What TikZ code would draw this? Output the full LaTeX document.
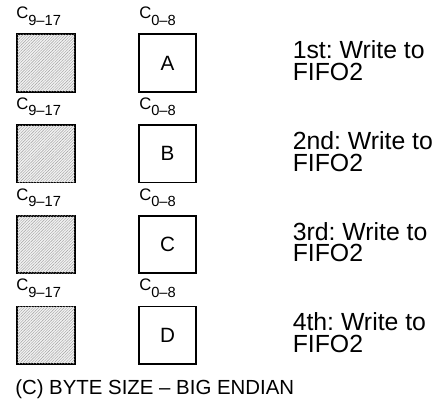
\documentclass[tikz,border=0pt]{standalone}
\usepackage{fontspec}
\setmainfont{Liberation Sans}
\usetikzlibrary{patterns.meta}
\frenchspacing
\newcommand{\lowsub}[1]{\raisebox{-4.8pt}{\fontsize{11}{11}\selectfont #1}}
\tikzset{
 cell/.style={draw, line width=1.3pt, minimum width=43pt, minimum height=43pt,
   inner sep=0pt, font=\fontsize{15.5}{15.5}\selectfont},
 unused/.style={cell, fill=gray!10,
   postaction={pattern={Lines[angle=45,distance=1.5pt,line width=0.3pt]}, pattern color=gray!75}},
 bitlabel/.style={anchor=base west, inner sep=0pt, font=\fontsize{12.5}{12.5}\selectfont},
 writenote/.style={anchor=base west, inner sep=0pt, align=left, font=\fontsize{18.6}{16.3}\selectfont}
}

\begin{document}
\begin{tikzpicture}[x=0.75pt,y=-0.75pt]
 \useasboundingbox (0,0) rectangle (442,400);
 % first byte
 \node[bitlabel] (hiA) at (16,18.8) {C\lowsub{9–17}};
 \node[bitlabel] (loA) at (139,18.8) {C\lowsub{0–8}};
 \node[unused] (padA) at (46,63) {};
 \node[cell] (byteA) at (167.5,63) {A};
 \node[writenote] (noteA) at (292.5,80.5) {1st: Write to\\FIFO2};
 % second byte
 \node[bitlabel] (hiB) at (16,109.5) {C\lowsub{9–17}};
 \node[bitlabel] (loB) at (139,109.5) {C\lowsub{0–8}};
 \node[unused] (padB) at (46,153.7) {};
 \node[cell] (byteB) at (167.5,153.7) {B};
 \node[writenote] (noteB) at (292.5,171.2) {2nd: Write to\\FIFO2};
 % third byte
 \node[bitlabel] (hiC) at (16,200.2) {C\lowsub{9–17}};
 \node[bitlabel] (loC) at (139,200.2) {C\lowsub{0–8}};
 \node[unused] (padC) at (46,244.4) {};
 \node[cell] (byteC) at (167.5,244.4) {C};
 \node[writenote] (noteC) at (292.5,261.9) {3rd: Write to\\FIFO2};
 % fourth byte
 \node[bitlabel] (hiD) at (16,290.9) {C\lowsub{9–17}};
 \node[bitlabel] (loD) at (139,290.9) {C\lowsub{0–8}};
 \node[unused] (padD) at (46,335.1) {};
 \node[cell] (byteD) at (167.5,335.1) {D};
 \node[writenote] (noteD) at (292.5,352.6) {4th: Write to\\FIFO2};
 % caption
 \node[anchor=base west, inner sep=0pt, font=\fontsize{15.3}{15.3}\selectfont] (caption) at (15,394) {(C) BYTE SIZE – BIG ENDIAN};
\end{tikzpicture}
\end{document}
